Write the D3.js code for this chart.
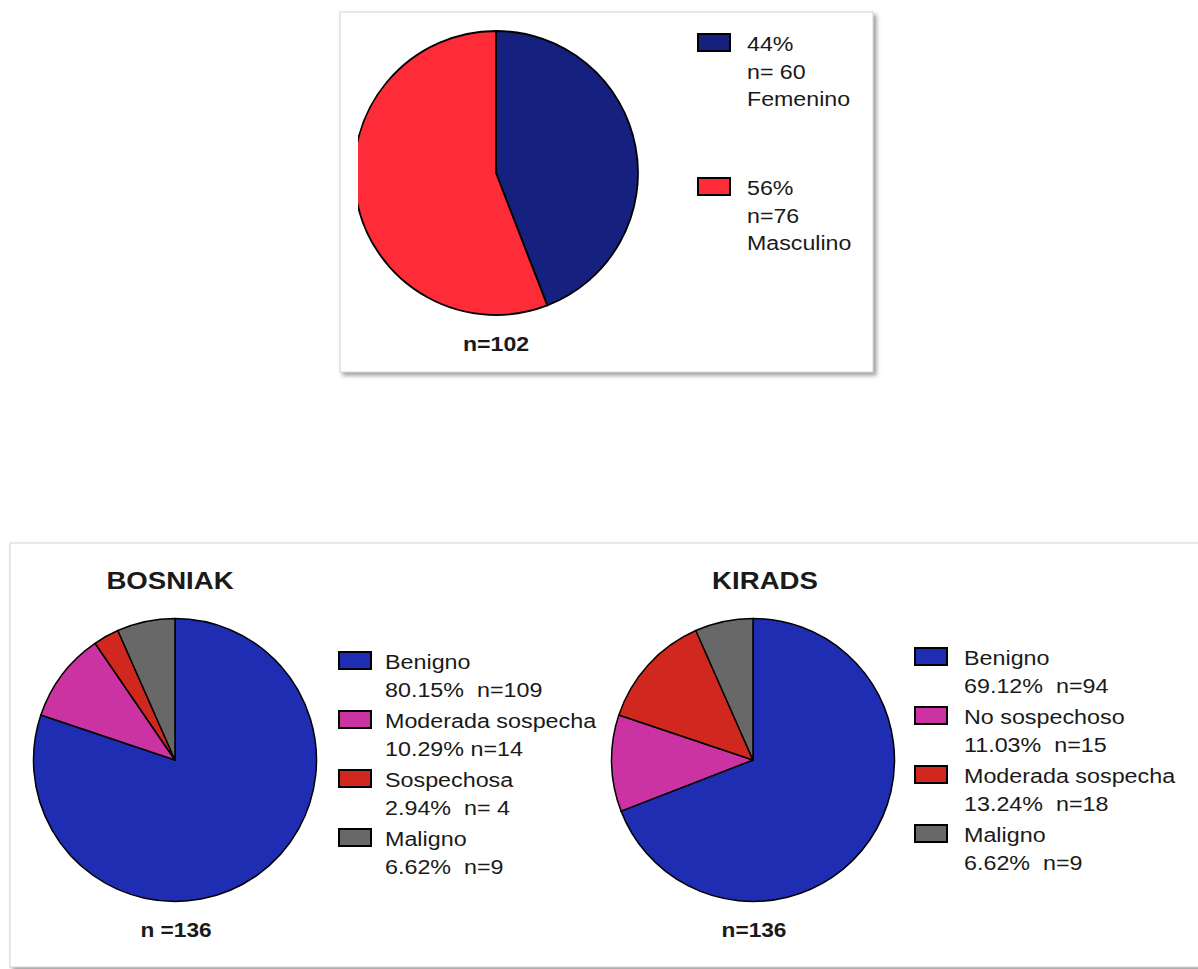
<!DOCTYPE html>
<html>
<head>
<meta charset="utf-8">
<script src="https://cdn.jsdelivr.net/npm/d3@7"></script>
<style>
  body { margin: 0; background: #ffffff; }
  svg { display: block; }
  text { font-family: "Liberation Sans", Arial, Helvetica, sans-serif; fill: #1a1a1a; white-space: pre; }
</style>
</head>
<body>
<svg id="chart" width="1198" height="969"></svg>
<script>
// ---- Sexo (panel superior) ----
const sexCategories = ["Femenino", "Masculino"];
const sexCounts = [60, 76];
const sexPercents = ["44%", "56%"];
const sexCountLabels = ["n= 60", "n=76"];
const sexTotalLabel = "n=102";

// ---- BOSNIAK ----
const bosniakTitle = "BOSNIAK";
const bosniakCategories = ["Benigno", "Moderada sospecha", "Sospechosa", "Maligno"];
const bosniakCounts = [109, 14, 4, 9];
const bosniakStats = ["80.15%  n=109", "10.29% n=14", "2.94%  n= 4", "6.62%  n=9"];
const bosniakTotalLabel = "n =136";

// ---- KIRADS ----
const kiradsTitle = "KIRADS";
const kiradsCategories = ["Benigno", "No sospechoso", "Moderada sospecha", "Maligno"];
const kiradsCounts = [94, 15, 18, 9];
const kiradsStats = ["69.12%  n=94", "11.03%  n=15", "13.24%  n=18", "6.62%  n=9"];
const kiradsTotalLabel = "n=136";

const sexColors = ["#16217f", "#fe2b38"];
const bosniakColors = ["#1f2db2", "#cc33a2", "#d0281e", "#686868"];
const kiradsColors = ["#1f2db2", "#cc33a2", "#d0281e", "#686868"];

const svg = d3.select("#chart");
const defs = svg.append("defs");

const shadow = defs.append("filter").attr("id", "boxShadow")
  .attr("x", "-5%").attr("y", "-5%").attr("width", "115%").attr("height", "115%");
shadow.append("feDropShadow")
  .attr("dx", 3).attr("dy", 3).attr("stdDeviation", 2)
  .attr("flood-color", "#7a7a7a").attr("flood-opacity", 0.75);

defs.append("clipPath").attr("id", "sexClip")
  .append("rect").attr("x", 358).attr("y", 0).attr("width", 400).attr("height", 400);

// horizontal stretch applied to the lettering
const SX = 1.13;

function label(g, x, y, str, opts = {}) {
  return g.append("text")
    .attr("transform", `translate(${x},${y}) scale(${opts.sx || SX},1)`)
    .attr("text-anchor", opts.anchor || "start")
    .attr("font-size", opts.size || 20)
    .attr("font-weight", opts.bold ? "bold" : "normal")
    .attr("xml:space", "preserve")
    .text(str);
}

function drawPie(g, counts, colors, cx, cy, r, stroke, clip) {
  const pie = d3.pie().sort(null).value(d => d);
  const arc = d3.arc().innerRadius(0).outerRadius(r);
  const color = d3.scaleOrdinal().domain(d3.range(counts.length)).range(colors);
  const holder = clip ? g.append("g").attr("clip-path", `url(#${clip})`) : g;
  const pg = holder.append("g").attr("transform", `translate(${cx},${cy})`);
  pg.selectAll("path")
    .data(pie(counts))
    .join("path")
    .attr("d", arc)
    .attr("fill", (d, i) => color(i))
    .attr("stroke", "#000")
    .attr("stroke-width", stroke)
    .attr("stroke-linejoin", "round");
}

// ---------- Panel superior ----------
const topPanel = svg.append("g");
topPanel.append("rect")
  .attr("x", 340).attr("y", 12).attr("width", 533).attr("height", 360)
  .attr("fill", "#fff").attr("stroke", "#d4d4d4").attr("stroke-width", 1)
  .attr("filter", "url(#boxShadow)");

drawPie(topPanel, sexCounts, sexColors, 496, 173, 142, 1.8, "sexClip");

label(topPanel, 496, 351, sexTotalLabel, { anchor: "middle", bold: true, size: 21, sx: 1.1 });

sexCategories.forEach((c, i) => {
  const y0 = 51 + i * 144;
  topPanel.append("rect")
    .attr("x", 698).attr("y", y0 - 17).attr("width", 32).attr("height", 17)
    .attr("fill", sexColors[i]).attr("stroke", "#000").attr("stroke-width", 2);
  label(topPanel, 747, y0, sexPercents[i], { size: 20, sx: 1.16 });
  label(topPanel, 747, y0 + 27.5, sexCountLabels[i], { size: 20, sx: 1.16 });
  label(topPanel, 747, y0 + 55, c, { size: 20, sx: 1.16 });
});

// ---------- Panel inferior ----------
const bottomPanel = svg.append("g");
bottomPanel.append("rect")
  .attr("x", 10).attr("y", 543).attr("width", 1250).attr("height", 424)
  .attr("fill", "#fff").attr("stroke", "#d4d4d4").attr("stroke-width", 1)
  .attr("filter", "url(#boxShadow)");

function drawScorePanel(title, titleX, cats, counts, stats, colors, totalLabel, cx, sqX, txtX, base0) {
  label(bottomPanel, titleX, 589, title, { anchor: "middle", bold: true, size: 23, sx: 1.2 });
  drawPie(bottomPanel, counts, colors, cx, 760, 141.5, 1.5);
  label(bottomPanel, cx + 1, 937, totalLabel, { anchor: "middle", bold: true, size: 21, sx: 1.08 });
  cats.forEach((c, i) => {
    const y0 = base0 + i * 59;
    bottomPanel.append("rect")
      .attr("x", sqX).attr("y", y0 - 17).attr("width", 32).attr("height", 17)
      .attr("fill", colors[i]).attr("stroke", "#000").attr("stroke-width", 2);
    label(bottomPanel, txtX, y0, c, { size: 21, sx: 1.11 });
    label(bottomPanel, txtX, y0 + 27.5, stats[i], { size: 21, sx: 1.11 });
  });
}

drawScorePanel(bosniakTitle, 170, bosniakCategories, bosniakCounts, bosniakStats, bosniakColors,
  bosniakTotalLabel, 175, 339, 385, 669);
drawScorePanel(kiradsTitle, 765, kiradsCategories, kiradsCounts, kiradsStats, kiradsColors,
  kiradsTotalLabel, 753, 915, 964, 665);
</script>
</body>
</html>
